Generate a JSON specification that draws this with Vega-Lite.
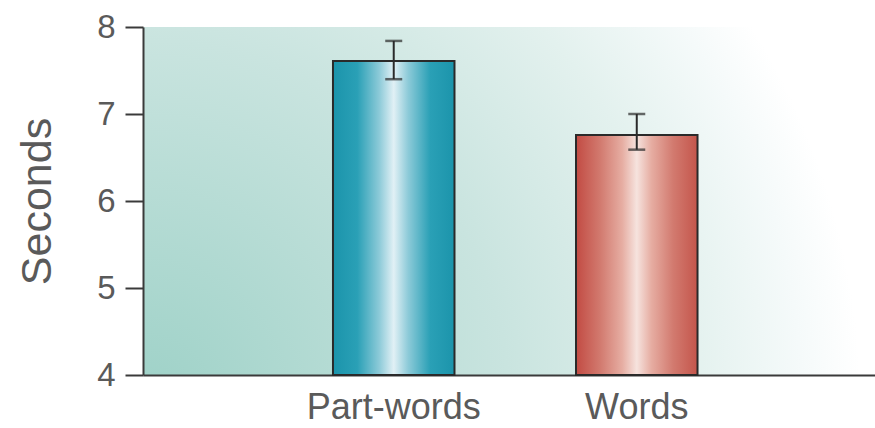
{
  "$schema": "https://vega.github.io/schema/vega-lite/v6.json",
  "width": 732,
  "height": 348,
  "autosize": {"type": "none"},
  "padding": {"left": 143, "top": 27, "right": 0, "bottom": 53},
  "background": "#ffffff",
  "config": {
    "view": {
      "stroke": null,
      "fill": {
        "gradient": "radial",
        "x1": 0, "y1": 0.78, "r1": 0,
        "x2": 0, "y2": 0.78, "r2": 1.0,
        "stops": [
          {"offset": 0, "color": "#9dd1c7"},
          {"offset": 0.5, "color": "#c9e4df"},
          {"offset": 0.75, "color": "#e3f1ee"},
          {"offset": 0.9, "color": "#f5fafa"},
          {"offset": 0.98, "color": "#ffffff"}
        ]
      }
    },
    "axis": {
      "labelFont": "Liberation Sans",
      "titleFont": "Liberation Sans",
      "labelColor": "#5a5a5a",
      "titleColor": "#5a5a5a",
      "domainColor": "#3a3a3a",
      "tickColor": "#3a3a3a",
      "domainWidth": 2,
      "tickWidth": 2,
      "grid": false
    }
  },
  "data": {
    "values": [
      {"condition": "Part-words", "seconds": 7.61, "lo": 7.40, "hi": 7.84},
      {"condition": "Words", "seconds": 6.76, "lo": 6.59, "hi": 7.00}
    ]
  },
  "encoding": {
    "x": {
      "field": "condition",
      "type": "nominal",
      "sort": ["Part-words", "Words"],
      "scale": {"paddingInner": 0.5, "paddingOuter": 0.756, "align": 0.517},
      "axis": {
        "title": null,
        "labelAngle": 0,
        "ticks": false,
        "tickSize": 0,
        "labelPadding": 15,
        "labelFontSize": 36,
        "labelBaseline": "top"
      }
    }
  },
  "layer": [
    {
      "transform": [{"filter": "datum.condition === 'Part-words'"}],
      "mark": {
        "type": "bar",
        "stroke": "#2a2a2a",
        "strokeWidth": 2,
        "fill": {
          "gradient": "linear",
          "x1": 0, "y1": 0, "x2": 1, "y2": 0,
          "stops": [
            {"offset": 0, "color": "#1b94ab"},
            {"offset": 0.2, "color": "#2aa0b6"},
            {"offset": 0.38, "color": "#8ccad8"},
            {"offset": 0.5, "color": "#e1f0f5"},
            {"offset": 0.62, "color": "#8ccad8"},
            {"offset": 0.8, "color": "#2aa0b6"},
            {"offset": 1, "color": "#1b94ab"}
          ]
        }
      },
      "encoding": {
        "y": {
          "field": "seconds",
          "type": "quantitative",
          "scale": {"domain": [4, 8], "zero": false, "nice": false},
          "axis": {
            "values": [4, 5, 6, 7, 8],
            "format": "d",
            "title": "Seconds",
            "titleFontSize": 43,
            "titleFontWeight": "normal",
            "titleAngle": -90,
            "titleX": -93,
            "titleY": 174,
            "titleAlign": "center",
            "titleBaseline": "alphabetic",
            "labelFontSize": 33,
            "tickSize": 18,
            "labelPadding": 10
          }
        },
        "y2": {"datum": 4}
      }
    },
    {
      "transform": [{"filter": "datum.condition === 'Words'"}],
      "mark": {
        "type": "bar",
        "stroke": "#2a2a2a",
        "strokeWidth": 2,
        "fill": {
          "gradient": "linear",
          "x1": 0, "y1": 0, "x2": 1, "y2": 0,
          "stops": [
            {"offset": 0, "color": "#c24b43"},
            {"offset": 0.2, "color": "#d27a6f"},
            {"offset": 0.38, "color": "#e6ada2"},
            {"offset": 0.5, "color": "#f6e3de"},
            {"offset": 0.62, "color": "#e6ada2"},
            {"offset": 0.8, "color": "#d27a6f"},
            {"offset": 1, "color": "#c4554b"}
          ]
        }
      },
      "encoding": {
        "y": {"field": "seconds", "type": "quantitative"},
        "y2": {"datum": 4}
      }
    },
    {
      "mark": {"type": "rule", "color": "#2a2a2a", "strokeWidth": 2},
      "encoding": {
        "y": {"field": "lo", "type": "quantitative"},
        "y2": {"field": "hi"}
      }
    },
    {
      "mark": {"type": "tick", "color": "#2a2a2a", "size": 17, "thickness": 2.5},
      "encoding": {
        "y": {"field": "hi", "type": "quantitative"}
      }
    },
    {
      "mark": {"type": "tick", "color": "#2a2a2a", "size": 17, "thickness": 2.5},
      "encoding": {
        "y": {"field": "lo", "type": "quantitative"}
      }
    }
  ]
}
